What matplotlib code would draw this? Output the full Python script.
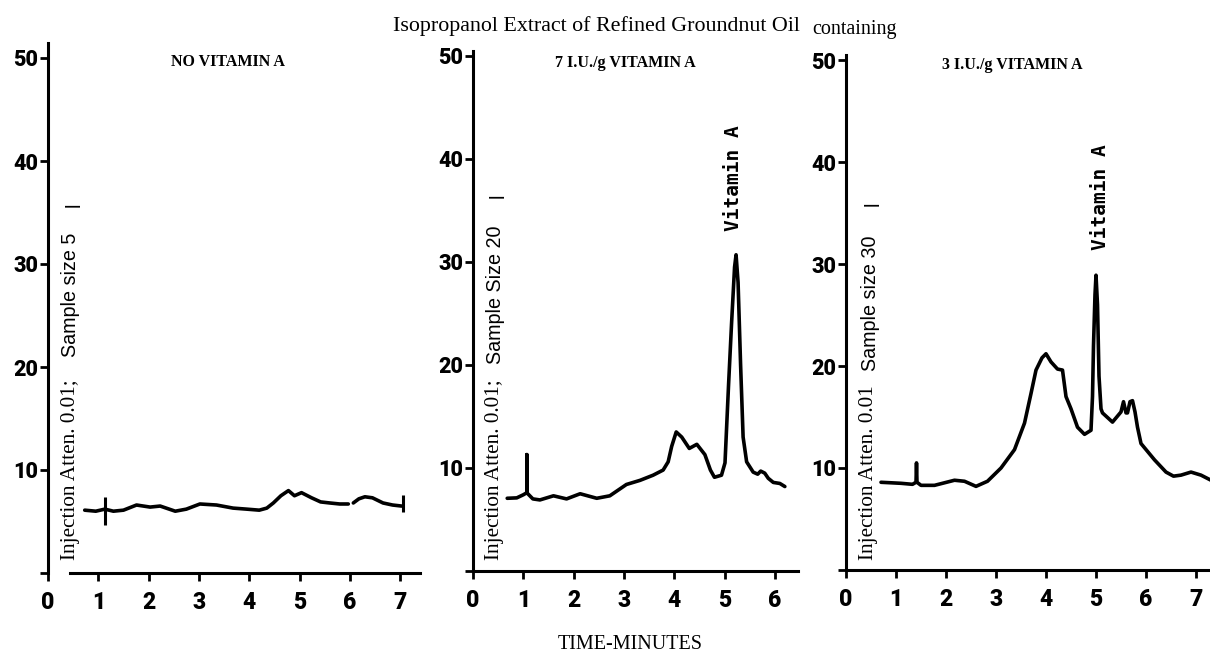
import matplotlib
matplotlib.use("Agg")
import matplotlib.pyplot as plt

# ---------------- data ----------------
# Panel 1: NO VITAMIN A (trace has a small gap near 6 min)
p1_time_a = [0.73, 0.95, 1.13, 1.3, 1.5, 1.76, 2.03, 2.23, 2.53, 2.75, 3.02, 3.35,
             3.68, 3.95, 4.2, 4.35, 4.48, 4.63, 4.78, 4.9, 5.04, 5.24, 5.42, 5.6,
             5.8, 5.97]
p1_signal_a = [6.1, 6.0, 6.2, 6.0, 6.1, 6.6, 6.4, 6.5, 6.0, 6.2, 6.7, 6.6,
               6.3, 6.2, 6.1, 6.3, 6.8, 7.5, 8.0, 7.5, 7.8, 7.3, 6.9, 6.8,
               6.7, 6.7]
p1_time_b = [6.07, 6.18, 6.3, 6.45, 6.66, 6.85, 7.03]
p1_signal_b = [6.8, 7.2, 7.4, 7.3, 6.8, 6.6, 6.5]
p1_mark_time = [1.13, 7.05]
p1_mark_low = [4.7, 5.9]
p1_mark_high = [7.4, 7.6]

# Panel 2: 7 I.U./g VITAMIN A
p2_time = [0.68, 0.87, 1.0, 1.07, 1.07, 1.07, 1.19, 1.33, 1.6, 1.86, 2.13, 2.46,
           2.72, 3.05, 3.32, 3.58, 3.78, 3.88, 3.95, 4.04, 4.15, 4.3, 4.45, 4.61,
           4.72, 4.8, 4.94, 5.01, 5.08, 5.14, 5.2, 5.23, 5.27, 5.32, 5.37, 5.44,
           5.57, 5.66, 5.72, 5.8, 5.87, 5.97, 6.1, 6.2]
p2_signal = [7.06, 7.1, 7.4, 7.6, 11.3, 7.6, 7.0, 6.9, 7.3, 7.0, 7.5, 7.06,
             7.3, 8.4, 8.8, 9.3, 9.8, 10.6, 12.1, 13.5, 13.0, 11.9, 12.3, 11.3,
             9.8, 9.1, 9.3, 10.5, 18.0, 24.0, 29.5, 30.7, 28.0, 20.0, 13.0, 10.6,
             9.6, 9.4, 9.7, 9.5, 9.0, 8.6, 8.5, 8.2]

# Panel 3: 3 I.U./g VITAMIN A
p3_time = [0.7, 1.1, 1.33, 1.4, 1.41, 1.42, 1.5, 1.77, 2.17, 2.37, 2.6, 2.83,
           3.1, 3.37, 3.57, 3.7, 3.8, 3.92, 4.0, 4.1, 4.23, 4.33, 4.4, 4.5,
           4.63, 4.77, 4.9, 4.93, 4.95, 4.98, 5.0, 5.03, 5.06, 5.1, 5.13, 5.33,
           5.5, 5.55, 5.6, 5.63, 5.68, 5.73, 5.78, 5.83, 5.9, 6.17, 6.4, 6.55,
           6.7, 6.9, 7.1, 7.3]
p3_signal = [8.6, 8.5, 8.4, 8.6, 10.5, 8.6, 8.3, 8.3, 8.8, 8.7, 8.2, 8.7,
             10.0, 11.8, 14.4, 17.3, 19.6, 20.8, 21.2, 20.4, 19.7, 19.6, 17.0, 15.8,
             14.0, 13.3, 13.7, 17.0, 22.0, 27.0, 28.9, 26.0, 19.0, 15.8, 15.4, 14.5,
             15.5, 16.5, 15.4, 15.4, 16.5, 16.6, 15.5, 14.0, 12.4, 10.8, 9.6, 9.2,
             9.3, 9.6, 9.3, 8.8]

panel_titles = ["NO VITAMIN A", "7 I.U./g VITAMIN A", "3 I.U./g VITAMIN A"]
atten_labels = ["Injection Atten. 0.01;", "Injection Atten. 0.01;", "Injection Atten. 0.01"]
sample_labels = ["Sample size 5", "Sample Size 20", "Sample size 30"]
x_ticks = [[0, 1, 2, 3, 4, 5, 6, 7], [0, 1, 2, 3, 4, 5, 6], [0, 1, 2, 3, 4, 5, 6, 7]]
y_ticks = [0, 10, 20, 30, 40, 50]
y_ticklabels = ["", "10", "20", "30", "40", "50"]
peak_label = "Vitamin A"
title_main = "Isopropanol Extract of Refined Groundnut Oil"
title_tail = "containing"
x_label = "TIME-MINUTES"

# ---------------- layout ----------------
W, H = 1210, 658
fig = plt.figure(figsize=(W / 100, H / 100), dpi=100)
fig.patch.set_facecolor("white")

def fx(px):
    return px / W

def fy(py):
    return 1 - py / H

# (origin x px, origin y px, xmax, ymax, px per minute, px per unit)
layouts = [
    (48, 573, 7.4, 51.5, 50.3, 10.3),
    (473, 571, 6.46, 50.5, 50.3, 10.3),
    (846, 570, 7.3, 50.5, 50.0, 10.2),
]

traces = [
    [(p1_time_a, p1_signal_a), (p1_time_b, p1_signal_b)],
    [(p2_time, p2_signal)],
    [(p3_time, p3_signal)],
]

axes = []
for i, (ox, oy, xm, ym, sx, sy) in enumerate(layouts):
    ax = fig.add_axes([fx(ox), 1 - oy / H, xm * sx / W, ym * sy / H])
    ax.set_xlim(0, xm)
    ax.set_ylim(0, ym)
    for s in ("top", "right"):
        ax.spines[s].set_visible(False)
    for s in ("left", "bottom"):
        ax.spines[s].set_linewidth(2.2)
        ax.spines[s].set_color("black")
    ax.set_xticks(x_ticks[i])
    ax.set_xticklabels([str(t) for t in x_ticks[i]], fontfamily="Roboto",
                       fontweight="heavy", fontsize=16.5)
    ax.set_yticks(y_ticks)
    ax.set_yticklabels(y_ticklabels, fontfamily="Roboto", fontweight="heavy", fontsize=15.5)
    ax.tick_params(axis="x", length=6, width=2.0, pad=7)
    ax.tick_params(axis="y", length=6, width=2.0, pad=1)
    ax.patch.set_alpha(0)
    for tt, vv in traces[i]:
        ax.plot(tt, vv, color="black", lw=2.6, solid_joinstyle="round",
                solid_capstyle="round")
    axes.append(ax)

axes[0].spines["bottom"].set_bounds(0.44, 7.4)
axes[0].vlines(p1_mark_time, p1_mark_low, p1_mark_high, color="black", lw=2.2)

# Vitamin A peak labels
axes[1].text(5.17, 33.0, peak_label, rotation=90, ha="center", va="bottom",
             fontfamily="DejaVu Sans Mono", fontweight="bold", fontsize=14)
axes[2].text(5.1, 31.4, peak_label, rotation=90, ha="center", va="bottom",
             fontfamily="DejaVu Sans Mono", fontweight="bold", fontsize=14)

# panel titles
title_pos = [(228, 62), (625, 63), (1012, 65)]
for (px, py), t in zip(title_pos, panel_titles):
    fig.text(fx(px), fy(py), t, ha="center", va="center", fontfamily="Liberation Serif",
             fontweight="bold", fontsize=11.5)

# rotated injection / sample labels
rot_pos = [(70, 560, 233, 205), (494, 560, 225, 196), (869, 560, 235, 204)]
for (px, ybot, ytop, ybar), a, s in zip(rot_pos, atten_labels, sample_labels):
    fig.text(fx(px), fy(ybot), a, rotation=90, ha="center", va="bottom",
             fontfamily="Liberation Serif", fontsize=15.3)
    fig.text(fx(px + 1), fy(ytop), s, rotation=90, ha="center", va="top",
             fontfamily="Liberation Sans", fontsize=14.2)
    fig.text(fx(px + 4), fy(ybar), "l", rotation=90, ha="center", va="center",
             fontfamily="Liberation Sans", fontsize=14.2)

# figure title and x label
fig.text(fx(393), fy(31), title_main, ha="left", va="baseline",
         fontfamily="Liberation Serif", fontsize=15.8)
fig.text(fx(812), fy(34), title_tail, ha="left", va="baseline",
         fontfamily="Liberation Serif", fontsize=14.5)
fig.text(fx(630), fy(649), x_label, ha="center", va="baseline",
         fontfamily="Liberation Serif", fontsize=14.5)

fig.savefig("out.png", dpi=100, facecolor="white")
